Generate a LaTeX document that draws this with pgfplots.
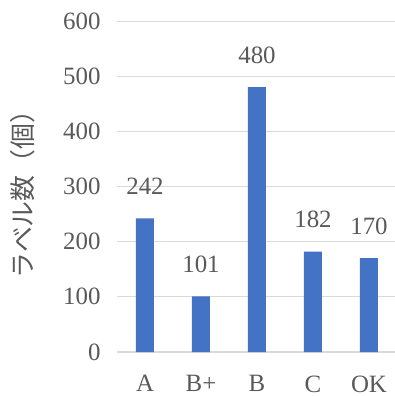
\documentclass[border=0pt]{standalone}
\usepackage{fontspec}
\setmainfont{Liberation Serif}
\newfontfamily\jpfont{Noto Sans CJK JP}
\usepackage{pgfplots}
\pgfplotsset{compat=1.18}
\definecolor{barblue}{HTML}{4472C4}
\definecolor{txtgray}{HTML}{595959}
\definecolor{gridgray}{HTML}{D9D9D9}
\begin{document}
\begin{tikzpicture}
\begin{axis}[
  at={(0,0)}, anchor=south west,
  scale only axis,
  width=280bp, height=331bp,
  xmin=-0.5, xmax=4.5,
  ymin=0, ymax=600,
  ytick={0,100,...,600},
  xtick=data,
  xticklabels={A,B+,B,C,OK},
  axis line style={draw=none},
  axis x line*=bottom,
  x axis line style={draw=gridgray, line width=1.2bp},
  major tick length=0pt,
  ymajorgrids,
  grid style={gridgray, line width=1bp},
  tick label style={text=txtgray, font=\fontsize{25}{27}\selectfont},
  /pgf/number format/assume math mode=true,
  yticklabel style={xshift=-13bp},
  xticklabel style={yshift=-20bp},
  ylabel={ラベル数（個）},
  ylabel style={text=txtgray, font=\fontsize{26}{28}\selectfont\jpfont, at={(ticklabel cs:0.495)}, yshift=21bp},
  ybar, bar width=18bp,
  nodes near coords,
  every node near coord/.append style={text=txtgray, font=\fontsize{25}{27}\selectfont, yshift=20bp},
  clip=false,
]
\addplot[fill=barblue, draw=none] coordinates {(0,242) (1,101) (2,480) (3,182) (4,170)};
\end{axis}
\pgfresetboundingbox
\useasboundingbox (-117bp,-44bp) rectangle (278bp,352bp);
\end{tikzpicture}
\end{document}
